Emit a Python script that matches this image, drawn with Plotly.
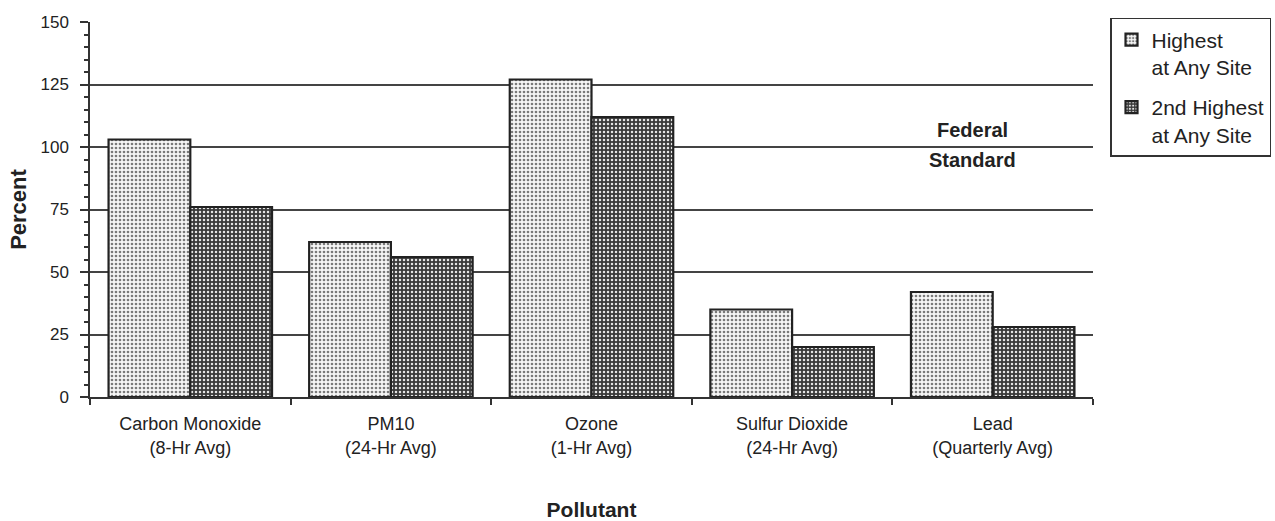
import plotly.graph_objects as go

categories = ["Carbon Monoxide<br>(8-Hr Avg)", "PM10<br>(24-Hr Avg)", "Ozone<br>(1-Hr Avg)",
              "Sulfur Dioxide<br>(24-Hr Avg)", "Lead<br>(Quarterly Avg)"]
highest = [103, 62, 127, 35, 42]
second_highest = [76, 56, 112, 20, 28]
series_names = ["Highest<br>at Any Site", "2nd Highest<br>at Any Site"]
y_ticks = [0, 25, 50, 75, 100, 125, 150]

FONT = "Liberation Sans, Arial, sans-serif"
TXT = "#222"

fig = go.Figure()
fig.add_trace(go.Bar(
    x=categories, y=highest, name=series_names[0], legendgroup="a",
    marker=dict(color="white",
                pattern=dict(shape=".", fgcolor="#7a7a7a", bgcolor="#f6f6f6",
                             size=4, solidity=0.35, fillmode="replace"),
                line=dict(color="#222", width=2.2)),
))
fig.add_trace(go.Bar(
    x=categories, y=second_highest, name=series_names[1], legendgroup="b",
    marker=dict(color="#444",
                pattern=dict(shape=".", fgcolor="#e6e6e6", bgcolor="#3a3a3a",
                             size=4, solidity=0.3, fillmode="replace"),
                line=dict(color="#222", width=2.2)),
))

fig.add_annotation(x=3.9, y=106.8, xref="x", yref="y", text="<b>Federal</b>",
                   showarrow=False, font=dict(family=FONT, size=20, color=TXT))
fig.add_annotation(x=3.9, y=94.8, xref="x", yref="y", text="<b>Standard</b>",
                   showarrow=False, font=dict(family=FONT, size=20, color=TXT))

fig.update_layout(
    width=1275, height=521,
    margin=dict(l=90, r=182, t=22, b=124, autoexpand=False),
    paper_bgcolor="white", plot_bgcolor="white",
    barmode="group", bargap=0.185, bargroupgap=0,
    font=dict(family=FONT, color=TXT),
    legend=dict(x=0.8706, y=0.9655, xref="container", yref="container",
                xanchor="left", yanchor="top",
                bordercolor="#333", borderwidth=1.5, bgcolor="white",
                font=dict(family=FONT, size=21, color=TXT),
                valign="top", traceorder="grouped", tracegroupgap=10),
    showlegend=True,
)
fig.update_xaxes(
    type="category", tickson="boundaries", ticks="outside", ticklen=6,
    tickcolor="#333", tickwidth=1.5, automargin=False,
    showline=True, linecolor="#333", linewidth=1.5, showgrid=False,
    tickfont=dict(family=FONT, size=18, color=TXT), ticklabelstandoff=10,
    title=dict(text="<b>Pollutant</b>", font=dict(family=FONT, size=21, color=TXT), standoff=50),
)
fig.update_yaxes(
    range=[0, 150], tickvals=y_ticks, ticks="outside", ticklen=8,
    tickcolor="#333", tickwidth=1.5, automargin=False,
    minor=dict(dtick=5, ticks="outside", ticklen=4, tickcolor="#333", showgrid=False),
    showline=True, linecolor="#333", linewidth=1.5,
    showgrid=True, gridcolor="#444", gridwidth=1.5, zeroline=False,
    tickfont=dict(family=FONT, size=17, color=TXT), ticklabelstandoff=8,
    title=dict(text="<b>Percent</b>", font=dict(family=FONT, size=22, color=TXT), standoff=8),
)

fig.write_html("out.html")
